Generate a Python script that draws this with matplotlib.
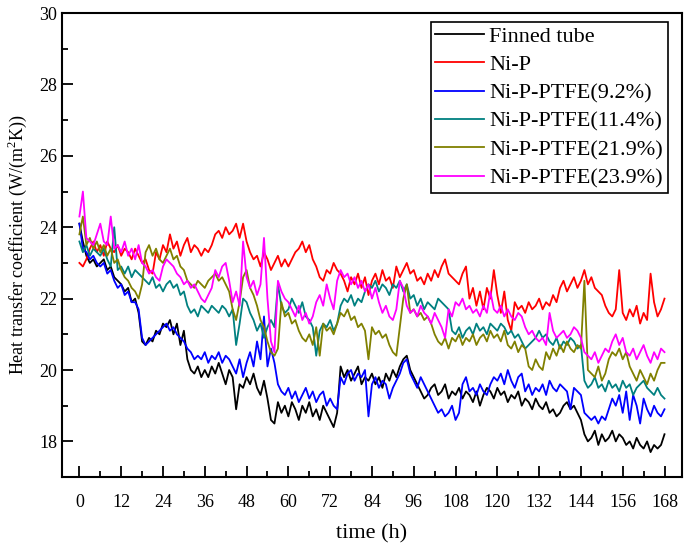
import numpy as np
import matplotlib
matplotlib.use('Agg')
import matplotlib.pyplot as plt
from matplotlib.ticker import MultipleLocator

plt.rcParams['font.family'] = ['Liberation Serif', 'DejaVu Serif']
plt.rcParams['mathtext.fontset'] = 'custom'
plt.rcParams['mathtext.rm'] = 'Liberation Serif'

# hourly readings, t = 0..168 h
tiempo = np.arange(0, 169)

finned = [
    24.1, 23.6, 23.2, 23.0, 23.1, 22.9, 23.0, 23.1, 22.8, 22.9, 22.6, 22.5,
    22.4, 22.2, 22.3, 21.9, 22.0, 21.6, 20.8, 20.7, 20.9, 20.8, 21.1, 21.0,
    21.3, 21.2, 21.4, 21.0, 21.3, 20.7, 21.1, 20.3, 20.0, 19.9, 20.1, 19.8,
    20.0, 19.8, 20.1, 19.9, 20.2, 19.9, 19.6, 20.0, 19.8, 18.9, 19.6, 19.5,
    19.8, 19.6, 19.9, 19.5, 19.3, 19.7, 19.2, 18.6, 18.5, 19.1, 18.8, 19.0,
    18.7, 19.1, 18.9, 18.6, 19.0, 18.8, 19.1, 18.7, 18.9, 18.6, 19.0, 18.8,
    18.6, 18.4, 18.8, 20.1, 19.8, 20.0, 19.7, 19.9, 20.1, 19.6, 19.8, 19.7,
    19.9, 19.6, 19.8, 19.5, 19.9, 19.7, 20.0, 19.8, 20.1, 20.3, 20.4, 20.0,
    19.8, 19.6, 19.4, 19.2, 19.3, 19.5, 19.6, 19.3, 19.4, 19.6, 19.2, 19.4,
    19.3, 19.5, 19.2, 19.4, 19.3, 19.1, 19.4, 19.0, 19.3, 19.5, 19.4, 19.2,
    19.5, 19.3, 19.4, 19.1, 19.3, 19.2, 19.4, 19.0, 19.2, 19.1, 18.9, 19.2,
    19.0, 18.9, 19.1, 18.8, 18.9, 18.7, 18.8, 19.0, 19.1, 18.9, 19.0, 18.8,
    18.6, 18.2, 18.0, 18.1, 18.3, 17.9, 18.2, 18.0, 18.1, 18.3, 18.0, 18.2,
    18.1, 17.9, 18.0, 17.8, 18.1, 17.9, 17.8, 18.0, 17.7, 17.9, 17.8, 17.9,
    18.2,
]

ni_p = [
    23.0, 22.9, 23.1, 23.4, 23.6, 23.3, 23.5, 23.2, 23.6, 23.4, 23.3, 23.5,
    23.2, 23.4, 23.3, 23.1, 23.4, 23.2, 23.0, 23.1, 22.8, 22.7, 23.3, 23.1,
    23.5, 23.3, 23.8, 23.4, 23.6, 23.2, 23.5, 23.7, 23.3, 23.5, 23.4, 23.2,
    23.4, 23.3, 23.5, 23.8, 23.9, 23.7, 24.0, 23.8, 23.9, 24.1, 23.7, 24.1,
    23.6, 23.3, 23.1, 23.2, 22.9, 23.3, 23.1, 22.8, 23.0, 23.2, 22.9, 23.1,
    22.9, 23.1, 23.3, 23.4, 23.6, 23.3, 23.5, 23.1, 22.9, 22.6, 22.5, 22.8,
    22.7, 23.0, 22.8, 22.7, 22.5, 22.2, 22.6, 22.4, 22.7, 22.3, 22.6, 22.1,
    22.5, 22.7, 22.4, 22.8, 22.5, 22.6, 22.3, 22.9, 22.6, 22.8, 23.0, 22.7,
    22.8, 22.5, 22.6, 22.4, 22.7, 22.5, 22.8, 22.6, 22.9, 23.1, 22.7, 22.6,
    22.5, 22.4, 22.7, 22.9, 22.0, 22.3, 21.8, 22.2, 21.7, 22.3, 22.0, 22.8,
    22.1, 21.6, 22.2, 21.4, 21.1, 21.9, 21.7, 21.8, 21.6, 21.9, 21.7, 21.8,
    22.0, 21.7, 21.9, 21.8, 22.1, 21.9, 22.3, 22.5, 22.2, 22.4, 22.6, 22.3,
    22.5, 22.8, 22.4, 22.6, 22.3, 22.2, 22.1, 21.8, 21.6, 21.5, 21.7, 22.8,
    21.6, 21.4, 21.7, 21.5, 21.8, 21.3, 21.6, 21.4, 22.7, 21.9, 21.5, 21.7,
    22.0,
]

ptfe_92 = [
    24.1, 23.4, 23.3, 23.1, 23.2, 23.0, 22.9, 23.0, 22.7, 22.8, 22.5, 22.3,
    22.4, 22.1, 22.2, 21.9, 21.9, 21.7, 20.9, 20.7, 20.8, 20.9, 21.0, 21.1,
    21.2, 21.3, 21.1, 21.2, 21.0, 20.9, 20.8, 20.6, 20.5, 20.3, 20.4, 20.3,
    20.5, 20.2, 20.4, 20.3, 20.5, 20.2, 20.4, 20.3, 20.1, 19.9, 20.3, 19.8,
    20.2, 20.5, 20.1, 20.8, 20.3, 21.5, 20.1, 20.6, 20.2, 19.6, 19.4, 19.3,
    19.5, 19.2, 19.4, 19.1, 19.3, 19.5, 19.2, 19.4, 19.1, 19.3, 19.4, 19.0,
    19.2, 19.0, 18.9, 19.8, 19.6, 19.9, 20.0, 19.7, 19.9, 19.8, 20.0, 18.7,
    19.6, 19.8, 19.5, 19.7, 19.6, 19.2, 19.5, 19.7, 19.9, 20.2, 20.3, 19.9,
    19.7, 19.5, 19.8, 19.6, 19.4, 19.2, 19.0, 18.8, 18.9, 18.7, 18.8, 19.0,
    18.6, 18.8, 19.6, 19.8, 19.4, 19.5, 19.3, 19.6, 19.4, 19.3, 19.6, 19.8,
    19.7, 19.9, 19.6, 20.0, 19.7, 19.5, 19.8, 19.9, 19.4, 19.6, 19.3, 19.5,
    19.4, 19.6, 19.3, 19.7, 19.5, 19.4, 19.6, 19.5, 19.4, 18.9, 19.5, 19.4,
    19.3, 18.8, 18.7, 18.6, 18.7, 18.5, 18.7, 18.6, 18.9, 19.2, 19.0, 19.3,
    18.8, 19.4, 18.6, 19.3, 19.0, 18.5, 19.2, 18.9, 18.7, 19.0, 18.8, 18.7,
    18.9,
]

ptfe_114 = [
    23.6, 23.3, 23.5, 23.2, 23.4, 23.3, 23.2, 23.4, 23.1, 22.9, 24.0, 22.8,
    22.9, 22.7, 22.9, 22.6, 22.8, 22.7, 22.6, 22.5, 22.4, 22.6, 22.3, 22.4,
    22.2, 22.4, 22.5, 22.3, 22.4, 22.1, 22.2, 21.8, 21.6, 21.7, 21.5, 21.8,
    21.7, 21.6, 21.8, 21.7, 21.6, 21.8, 21.7, 21.5, 21.7, 20.7, 21.3, 22.0,
    21.9, 21.6, 21.4, 21.1, 21.3, 20.9, 21.2, 21.4, 21.2, 22.4, 21.8, 21.6,
    21.7, 22.0, 21.8, 21.6, 21.9, 21.5, 21.4, 21.2, 20.4, 21.1, 21.3, 21.2,
    21.4, 21.1, 21.3, 21.8, 22.0, 21.9, 22.1, 21.8, 22.0, 21.9, 22.2, 22.4,
    22.3, 22.5, 22.2, 22.4, 22.3, 22.1, 22.4, 22.3, 22.5, 22.2, 22.4, 22.0,
    22.1, 21.8, 22.0, 21.7, 21.9, 21.8, 21.7, 22.0, 21.9, 21.8, 21.7, 21.1,
    21.0, 21.2, 20.9, 21.1, 21.2, 21.0, 21.3, 21.1, 21.2, 21.0, 21.3, 21.2,
    21.1, 21.3, 21.2, 21.0, 21.1, 20.9, 21.0, 20.8, 20.6, 20.7, 20.8, 20.9,
    21.1, 20.9, 21.0, 20.8, 20.7, 20.9, 20.6, 20.8, 20.7, 20.9, 20.8, 20.6,
    20.7, 19.7, 19.5, 19.6, 19.8, 19.5, 19.6, 19.4, 19.7, 19.5, 19.6, 19.4,
    19.7, 19.5, 19.6, 19.3, 19.5, 19.6, 19.7, 19.5, 19.4, 19.3, 19.5, 19.3,
    19.2,
]

ptfe_219 = [
    23.8, 24.3, 23.5, 23.7, 23.4, 23.6, 23.3, 23.5, 23.2, 23.4, 23.0, 23.1,
    22.8, 22.6, 22.5, 22.3, 22.2, 22.0, 22.4, 23.3, 23.5, 23.2, 23.4, 23.1,
    23.0, 23.2, 23.4, 23.1, 23.2, 22.9, 22.8, 22.5, 22.4, 22.3, 22.5, 22.4,
    22.3, 22.5, 22.6, 22.7, 22.5, 22.6, 22.4, 22.2, 21.7, 21.4, 21.9, 22.6,
    22.8, 22.3, 22.1, 21.8, 21.4, 21.2, 20.8, 20.5, 20.4, 20.6, 21.9, 21.5,
    21.6, 21.3, 21.4, 21.1, 20.9, 20.8, 21.0, 20.7, 21.2, 20.4, 21.3, 21.1,
    21.2, 21.0, 21.3, 21.6, 21.5, 21.7, 21.4, 21.5, 21.2, 21.3, 21.1, 20.3,
    21.2, 21.0, 21.1, 20.9, 21.0, 20.7, 20.5, 20.4, 21.2, 22.0, 22.4, 21.6,
    21.7, 21.5, 21.6, 21.4, 21.5, 21.3, 21.0, 20.8, 20.7, 20.9, 20.6, 20.9,
    20.8, 21.0, 20.7, 20.9, 20.8, 21.0, 20.7, 20.9, 21.0, 20.8, 21.1, 20.9,
    21.0, 20.8, 21.1, 20.7, 20.6, 20.8, 20.5, 20.7, 20.6, 20.1, 20.0, 20.3,
    20.1, 20.0, 20.5, 20.3, 20.6, 20.4, 20.7, 20.5, 20.8, 20.6, 20.5, 20.7,
    20.6, 22.5, 20.0, 19.9, 19.8, 20.1, 19.7, 19.9, 20.3, 20.5, 20.4, 20.6,
    20.3, 20.5, 20.1, 19.9, 19.7, 20.0, 19.8, 19.6, 19.9, 19.7, 20.0, 20.2,
    20.2,
]

ptfe_239 = [
    24.3, 25.0, 23.7, 23.6, 23.5, 23.8, 24.1, 23.6, 23.5, 24.3, 23.4, 23.5,
    23.3, 23.6, 23.2, 23.4, 23.1, 23.5, 23.0, 22.9, 22.7, 22.8, 22.6, 22.5,
    22.9, 23.1, 23.0, 22.9, 22.7, 22.6, 22.4, 22.5, 22.3, 22.4, 22.2, 22.0,
    21.9, 22.1, 22.3, 22.8, 22.6, 22.9, 23.0, 22.5, 21.9, 22.2, 21.8, 23.6,
    22.6, 22.3, 22.5, 22.1, 22.4, 23.7, 22.0, 20.8, 20.5, 22.5, 22.2, 22.0,
    21.9, 21.7, 21.5, 21.8, 21.4, 21.6, 21.3, 21.5, 21.9, 22.1, 21.8, 22.4,
    22.0, 21.7, 22.5, 22.8, 22.6, 22.7, 22.4, 22.6, 22.3, 22.5, 22.2, 22.4,
    22.0, 22.3, 21.9, 21.6, 21.8, 21.5, 21.4, 21.7, 22.5, 22.3, 21.8, 21.6,
    21.7, 21.5, 21.8, 21.6, 21.5, 21.3, 21.6, 21.4, 21.2, 20.9, 21.7, 21.5,
    21.9, 21.8, 22.0, 21.7, 21.8, 21.6, 21.7, 21.5, 21.8, 21.6, 22.2, 21.7,
    21.6, 21.8, 21.5, 21.7, 21.5, 21.4, 21.6, 21.5, 21.2, 21.0, 21.1, 20.9,
    20.8, 20.9, 20.7, 21.6, 21.1, 20.9, 21.0, 21.1, 20.9, 21.0, 21.2, 21.1,
    20.9, 20.5, 20.4, 20.3, 20.5, 20.2, 20.4, 20.6, 20.5, 20.8, 21.0, 20.7,
    20.9, 20.5, 20.4, 20.6, 20.3, 20.5, 20.7, 20.4, 20.2, 20.5, 20.3, 20.6,
    20.5,
]

series = [
    (finned, 'black', 'Finned tube'),
    (ni_p, '#ff0000', 'Ni-P'),
    (ptfe_92, '#0000ff', 'Ni-P-PTFE(9.2%)'),
    (ptfe_114, '#008080', 'Ni-P-PTFE(11.4%)'),
    (ptfe_219, '#808000', 'Ni-P-PTFE(21.9%)'),
    (ptfe_239, '#ff00ff', 'Ni-P-PTFE(23.9%)'),
]

fig = plt.figure(figsize=(6.85, 5.44), dpi=100)
ax = fig.add_axes([0.0905, 0.123, 0.905, 0.853])

for valores, color, nombre in series:
    ax.plot(tiempo, valores, color=color, linewidth=1.3, label=nombre)

ax.set_xlim(-5, 173)
ax.set_ylim(17, 30)
ax.set_xticks(np.arange(0, 169, 12))
ax.xaxis.set_minor_locator(MultipleLocator(6))
ax.set_yticks(np.arange(18, 31, 2))
ax.yaxis.set_minor_locator(MultipleLocator(1))
ax.tick_params(which='both', direction='in', width=1.3, labelsize=13)
ax.tick_params(which='major', length=8)
ax.tick_params(which='minor', length=4)
ax.tick_params(axis='x', pad=12)
for s in ax.spines.values():
    s.set_linewidth(1.5)

ax.set_xlabel('time (h)', fontsize=16, labelpad=10)
ax.set_ylabel('Heat transfer coefficient (W/(m$^2$K))', fontsize=13, labelpad=7)

leg = ax.legend(loc='upper right', bbox_to_anchor=(0.977, 0.981),
                fontsize=16, fancybox=False, framealpha=1,
                edgecolor='black', handlelength=2.2, labelspacing=0.35,
                borderaxespad=0, handletextpad=0.25, borderpad=0.2)
leg.get_frame().set_linewidth(1.2)

fig.savefig('out.png', dpi=100)
